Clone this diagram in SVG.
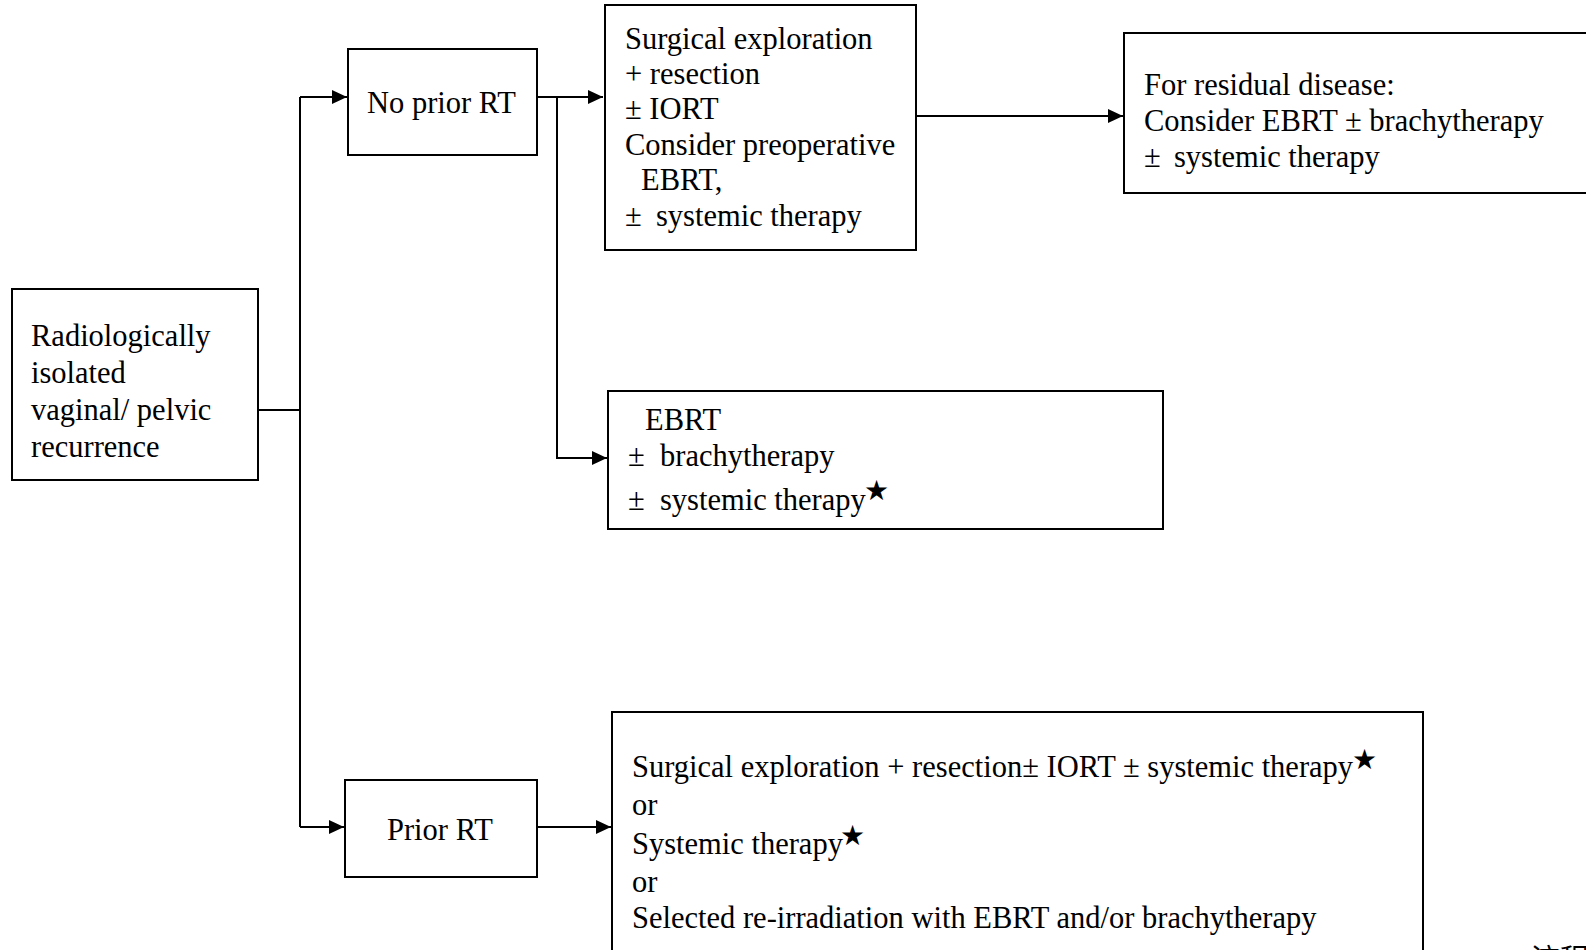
<svg xmlns="http://www.w3.org/2000/svg" width="1586" height="950" viewBox="0 0 1586 950">
  <style>
    .box { fill: #ffffff; stroke: #000000; stroke-width: 2; }
    .wire { fill: none; stroke: #000000; stroke-width: 2; }
    .t { font-family: "Liberation Serif", "Times New Roman", serif; font-size: 30.5px; fill: #000000; }
    .star { font-family: "DejaVu Sans", sans-serif; font-size: 28px; fill: #000000; }
    .cjk { font-family: "Liberation Serif", "Noto Sans CJK SC", serif; font-size: 29px; fill: #000000; }
  </style>
  <defs>
    <marker id="arrow" markerUnits="userSpaceOnUse" markerWidth="16" markerHeight="14" refX="15" refY="7" orient="auto">
      <path d="M0,0 L15,7 L0,14 Z" fill="#000000"/>
    </marker>
  </defs>
  <rect width="1586" height="950" fill="#ffffff"/>

  <!-- connectors -->
  <g id="connectors">
    <line class="wire" x1="258" y1="410" x2="300" y2="410"/>
    <line class="wire" x1="300" y1="97" x2="300" y2="827"/>
    <line class="wire" x1="300" y1="97" x2="347" y2="97" marker-end="url(#arrow)"/>
    <line class="wire" x1="300" y1="827" x2="344" y2="827" marker-end="url(#arrow)"/>
    <line class="wire" x1="537" y1="97" x2="603" y2="97" marker-end="url(#arrow)"/>
    <polyline class="wire" points="557,97 557,458 607,458" marker-end="url(#arrow)"/>
    <line class="wire" x1="916" y1="116" x2="1123" y2="116" marker-end="url(#arrow)"/>
    <line class="wire" x1="537" y1="827" x2="611" y2="827" marker-end="url(#arrow)"/>
  </g>

  <g id="node-recurrence">
    <rect class="box" x="12" y="289" width="246" height="191"/>
    <text class="t" x="31" y="346">Radiologically</text>
    <text class="t" x="31" y="383">isolated</text>
    <text class="t" x="31" y="419.5">vaginal/ pelvic</text>
    <text class="t" x="31" y="456.5">recurrence</text>
  </g>

  <g id="node-no-prior-rt">
    <rect class="box" x="348" y="49" width="189" height="106"/>
    <text class="t" x="367" y="113">No prior RT</text>
  </g>

  <g id="node-surgical">
    <rect class="box" x="605" y="5" width="311" height="245"/>
    <text class="t" x="625" y="48.5">Surgical exploration</text>
    <text class="t" x="625" y="84">+ resection</text>
    <text class="t" x="625" y="119">± IORT</text>
    <text class="t" x="625" y="154.5">Consider preoperative</text>
    <text class="t" x="641" y="190">EBRT,</text>
    <text class="t" x="625" y="225.5">±</text>
    <text class="t" x="656" y="225.5">systemic therapy</text>
  </g>

  <g id="node-residual">
    <rect class="box" x="1124" y="33" width="480" height="160"/>
    <text class="t" x="1144" y="95">For residual disease:</text>
    <text class="t" x="1144" y="130.5">Consider EBRT ± brachytherapy</text>
    <text class="t" x="1144" y="166.5">±</text>
    <text class="t" x="1174" y="166.5">systemic therapy</text>
  </g>

  <g id="node-ebrt">
    <rect class="box" x="608" y="391" width="555" height="138"/>
    <text class="t" x="645" y="430">EBRT</text>
    <text class="t" x="628" y="466">±</text>
    <text class="t" x="660" y="466">brachytherapy</text>
    <text class="t" x="628" y="509.5">±</text>
    <text class="t" x="660" y="509.5">systemic therapy</text>
    <text class="star" x="864" y="500">★</text>
  </g>

  <g id="node-prior-rt">
    <rect class="box" x="345" y="780" width="192" height="97"/>
    <text class="t" x="387" y="840">Prior RT</text>
  </g>

  <g id="node-prior-options">
    <rect class="box" x="612" y="712" width="811" height="260"/>
    <text class="t" x="632" y="777">Surgical exploration + resection± IORT ± systemic therapy</text>
    <text class="star" x="1352" y="769">★</text>
    <text class="t" x="632" y="815">or</text>
    <text class="t" x="632" y="853.5">Systemic therapy</text>
    <text class="star" x="840" y="845">★</text>
    <text class="t" x="632" y="892">or</text>
    <text class="t" x="632" y="928">Selected re-irradiation with EBRT and/or brachytherapy</text>
  </g>

  <text class="cjk" x="1531" y="970">流程图</text>
</svg>
